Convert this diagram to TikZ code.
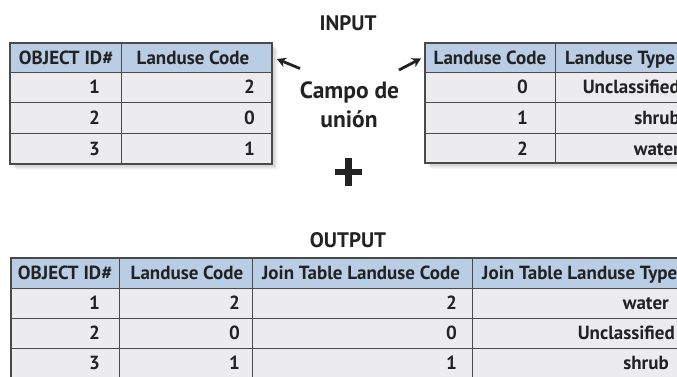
\documentclass[tikz,border=0pt]{standalone}
\usepackage{fontspec}
\usetikzlibrary{arrows.meta}
\setmainfont{PT Sans}
\definecolor{hdrblue}{HTML}{B9CDE5}
\definecolor{cellgray}{HTML}{ECECEE}
\definecolor{gridgray}{HTML}{4A4A4A}
\definecolor{ink}{HTML}{222222}
\definecolor{shadowgray}{HTML}{808080}
\begin{document}
\begin{tikzpicture}[x=1pt,y=-1pt,
  gridline/.style={draw=gridgray,line width=1pt},
  frame/.style={draw=gridgray,line width=1.4pt},
  txt/.style={font=\fontsize{19}{22}\selectfont\bfseries,text=ink,inner sep=0pt,text height=13.3pt,text depth=0pt},
  title/.style={font=\fontsize{21}{24}\selectfont\bfseries,text=ink,inner sep=0pt,text height=14.7pt,text depth=0pt},
  label/.style={font=\fontsize{23.5}{28}\selectfont\bfseries,text=ink,inner sep=0pt,anchor=base},
  pointer/.style={draw=ink,line width=2.8pt,-{Stealth[length=9pt,width=10pt]}}]
\useasboundingbox (0,0) rectangle (677,376);
\clip (0,0) rectangle (677,376);

% soft drop shadows under the two input tables
\foreach \o/\a in {6/0.06,5/0.08,4/0.10,3/0.12} {
  \fill[shadowgray,opacity=\a] (10+\o,43+\o) rectangle (272+\o,164+\o);
  \fill[shadowgray,opacity=\a] (425+\o,43+\o) rectangle (690+\o,163+\o);
}

% titles
\node[title] (input) at (348,23) {INPUT};
\node[title] (output) at (348,240) {OUTPUT};

% left input table
\fill[hdrblue] (10,43) rectangle (272,72);
\fill[cellgray] (10,72) rectangle (272,164);
\draw[gridline] (10,72) -- (272,72) (10,102) -- (272,102) (10,133) -- (272,133) (121.5,43) -- (121.5,164);
\draw[frame] (10,43) rectangle (272,164);
\node[txt] (la-h1) at (66,57.5) {OBJECT ID\#};
\node[txt] (la-h2) at (193,57.5) {Landuse Code};
\node[txt,anchor=east] (la-11) at (100,87) {1};
\node[txt,anchor=east] (la-12) at (255,87) {2};
\node[txt,anchor=east] (la-21) at (100,117.5) {2};
\node[txt,anchor=east] (la-22) at (255,117.5) {0};
\node[txt,anchor=east] (la-31) at (100,148.5) {3};
\node[txt,anchor=east] (la-32) at (255,148.5) {1};

% right input table
\fill[hdrblue] (425,43) rectangle (690,72);
\fill[cellgray] (425,72) rectangle (690,163);
\draw[gridline] (425,72) -- (690,72) (425,102.5) -- (690,102.5) (425,133.5) -- (690,133.5) (555,43) -- (555,163);
\draw[frame] (425,43) rectangle (690,163);
\node[txt] (ra-h1) at (490,57.5) {Landuse Code};
\node[txt,anchor=west] (ra-h2) at (565,57.5) {Landuse Type};
\node[txt,anchor=east] (ra-11) at (528,87) {0};
\node[txt,anchor=east] (ra-12) at (680,87) {Unclassified};
\node[txt,anchor=east] (ra-21) at (528,118) {1};
\node[txt,anchor=east] (ra-22) at (680,118) {shrub};
\node[txt,anchor=east] (ra-31) at (528,148.5) {2};
\node[txt,anchor=east] (ra-32) at (680,148.5) {water};

% join field label with its two pointers
\node[label] (campo) at (349.5,98) {Campo de};
\node[label] (union) at (349,127) {unión};
\coordinate (lt-tail) at (300,68.5);
\coordinate (lt-tip) at (277,59);
\coordinate (rt-tail) at (399,70);
\coordinate (rt-tip) at (421,58.5);
\draw[pointer] (lt-tail) -- (lt-tip);
\draw[pointer] (rt-tail) -- (rt-tip);

% plus sign between input and output
\coordinate (plus) at (348.5,172);
\draw[ink,line width=6.5pt] ([xshift=-13.5pt]plus) -- ([xshift=13.5pt]plus)
  ([yshift=-14pt]plus) -- ([yshift=14pt]plus);

% output table
\fill[hdrblue] (11,258) rectangle (700,288);
\fill[cellgray] (11,288) rectangle (700,378);
\draw[gridline] (11,288) -- (700,288) (11,318) -- (700,318) (11,348) -- (700,348)
  (119,258) -- (119,378) (252,258) -- (252,378) (472,258) -- (472,378);
\draw[frame] (11,258) rectangle (700,378);
\node[txt] (o-h1) at (65,273) {OBJECT ID\#};
\node[txt] (o-h2) at (187,273) {Landuse Code};
\node[txt] (o-h3) at (361,273) {Join Table Landuse Code};
\node[txt,anchor=west] (o-h4) at (482,273) {Join Table Landuse Type};
\node[txt,anchor=east] (o-11) at (100,303) {1};
\node[txt,anchor=east] (o-12) at (240,303) {2};
\node[txt,anchor=east] (o-13) at (457,303) {2};
\node[txt,anchor=east] (o-14) at (669,303) {water};
\node[txt,anchor=east] (o-21) at (100,333) {2};
\node[txt,anchor=east] (o-22) at (240,333) {0};
\node[txt,anchor=east] (o-23) at (457,333) {0};
\node[txt,anchor=east] (o-24) at (675,333) {Unclassified};
\node[txt,anchor=east] (o-31) at (100,363) {3};
\node[txt,anchor=east] (o-32) at (240,363) {1};
\node[txt,anchor=east] (o-33) at (457,363) {1};
\node[txt,anchor=east] (o-34) at (669,363) {shrub};
\end{tikzpicture}
\end{document}
